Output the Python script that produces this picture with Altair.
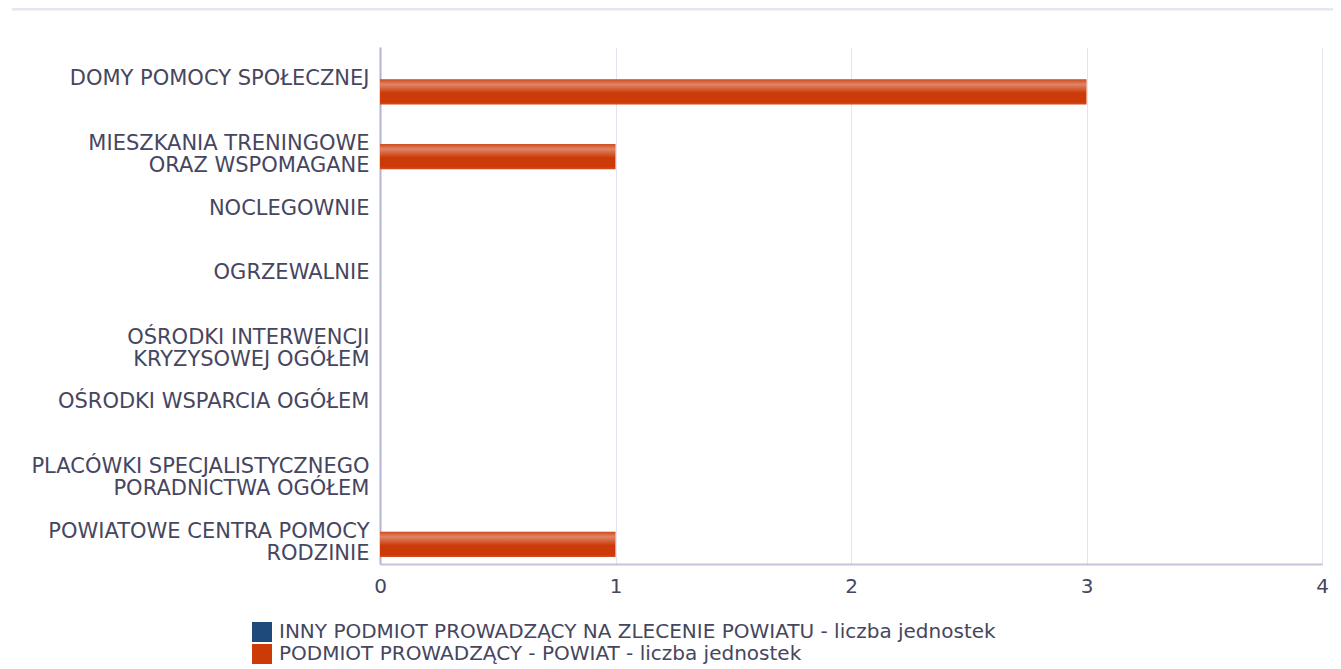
import altair as alt
import pandas as pd

categories = [
    "DOMY POMOCY SPOŁECZNEJ",
    "MIESZKANIA TRENINGOWE\nORAZ WSPOMAGANE",
    "NOCLEGOWNIE",
    "OGRZEWALNIE",
    "OŚRODKI INTERWENCJI\nKRYZYSOWEJ OGÓŁEM",
    "OŚRODKI WSPARCIA OGÓŁEM",
    "PLACÓWKI SPECJALISTYCZNEGO\nPORADNICTWA OGÓŁEM",
    "POWIATOWE CENTRA POMOCY\nRODZINIE",
]
series_names = [
    "INNY PODMIOT PROWADZĄCY NA ZLECENIE POWIATU - liczba jednostek",
    "PODMIOT PROWADZĄCY - POWIAT - liczba jednostek",
]
inny_values = [0, 0, 0, 0, 0, 0, 0, 0]
powiat_values = [3, 1, 0, 0, 0, 0, 0, 1]
series_colors = ["#1e4a7a", "#cc3a08"]
x_ticks = [0, 1, 2, 3, 4]

rows = []
for c, v in zip(categories, inny_values):
    rows.append({"cat": c, "series": series_names[0], "value": v})
for c, v in zip(categories, powiat_values):
    rows.append({"cat": c, "series": series_names[1], "value": v})
df = pd.DataFrame(rows)

FONT = "DejaVu Sans"
TXT = "#464660"

y_enc = alt.Y(
    "cat:N",
    sort=categories,
    scale=alt.Scale(paddingInner=0.22, paddingOuter=0.11),
    axis=alt.Axis(
        title=None,
        labelExpr="split(datum.label, '\\n')",
        labelFont=FONT,
        labelFontSize=21,
        labelColor=TXT,
        labelPadding=11,
        labelLimit=400,
        ticks=False,
        domainColor="#b4b4d2",
        domainWidth=2,
        grid=False,
        labelLineHeight=22,
    ),
)
y_off = alt.YOffset("series:N", sort=series_names, scale=alt.Scale(paddingInner=0, paddingOuter=0))
x_enc = alt.X(
    "value:Q",
    scale=alt.Scale(domain=[0, 4], nice=False),
    axis=alt.Axis(
        title=None,
        values=x_ticks,
        format="d",
        labelFont=FONT,
        labelFontSize=20,
        labelColor=TXT,
        labelPadding=12,
        labelFlush=False,
        ticks=False,
        domainColor="#c4c4dc",
        domainWidth=2,
        gridColor="#e4e4ee",
        gridWidth=1,
    ),
)

base = alt.Chart(df)

bars = base.mark_bar().encode(
    y=y_enc,
    yOffset=y_off,
    x=x_enc,
    color=alt.Color(
        "series:N",
        sort=series_names,
        scale=alt.Scale(domain=series_names, range=series_colors),
        legend=alt.Legend(
            title=None,
            orient="none",
            legendX=-128,
            legendY=575,
            symbolType="square",
            symbolSize=400,
            symbolStrokeWidth=0,
            labelFont=FONT,
            labelFontSize=20,
            labelColor=TXT,
            labelLimit=900,
            rowPadding=2,
            labelOffset=7,
        ),
    ),
)

shine = base.mark_bar(
    fill=alt.Gradient(
        gradient="linear",
        x1=0, y1=0, x2=0, y2=1,
        stops=[
            alt.GradientStop(offset=0.0, color="rgba(255,255,255,0.08)"),
            alt.GradientStop(offset=0.2, color="rgba(255,255,255,0.38)"),
            alt.GradientStop(offset=0.55, color="rgba(255,255,255,0.0)"),
            alt.GradientStop(offset=0.9, color="rgba(255,255,255,0.0)"),
            alt.GradientStop(offset=1.0, color="rgba(255,255,255,0.1)"),
        ],
    )
).encode(y=y_enc, yOffset=y_off, x=x_enc)

top_line = alt.Chart(pd.DataFrame({"a": [0]})).mark_rule(
    color="#e6e6ee", strokeWidth=3
).encode(x=alt.value(-368), x2=alt.value(955), y=alt.value(-38))

chart = alt.layer(top_line, bars, shine).properties(
    width=942,
    height=517,
    autosize=alt.AutoSizeParams(type="none"),
    padding={"left": 372, "top": 39, "right": 11, "bottom": 104},
).configure_view(stroke=None)

chart.save("out.html", embed_options={"renderer": "svg", "actions": False})
